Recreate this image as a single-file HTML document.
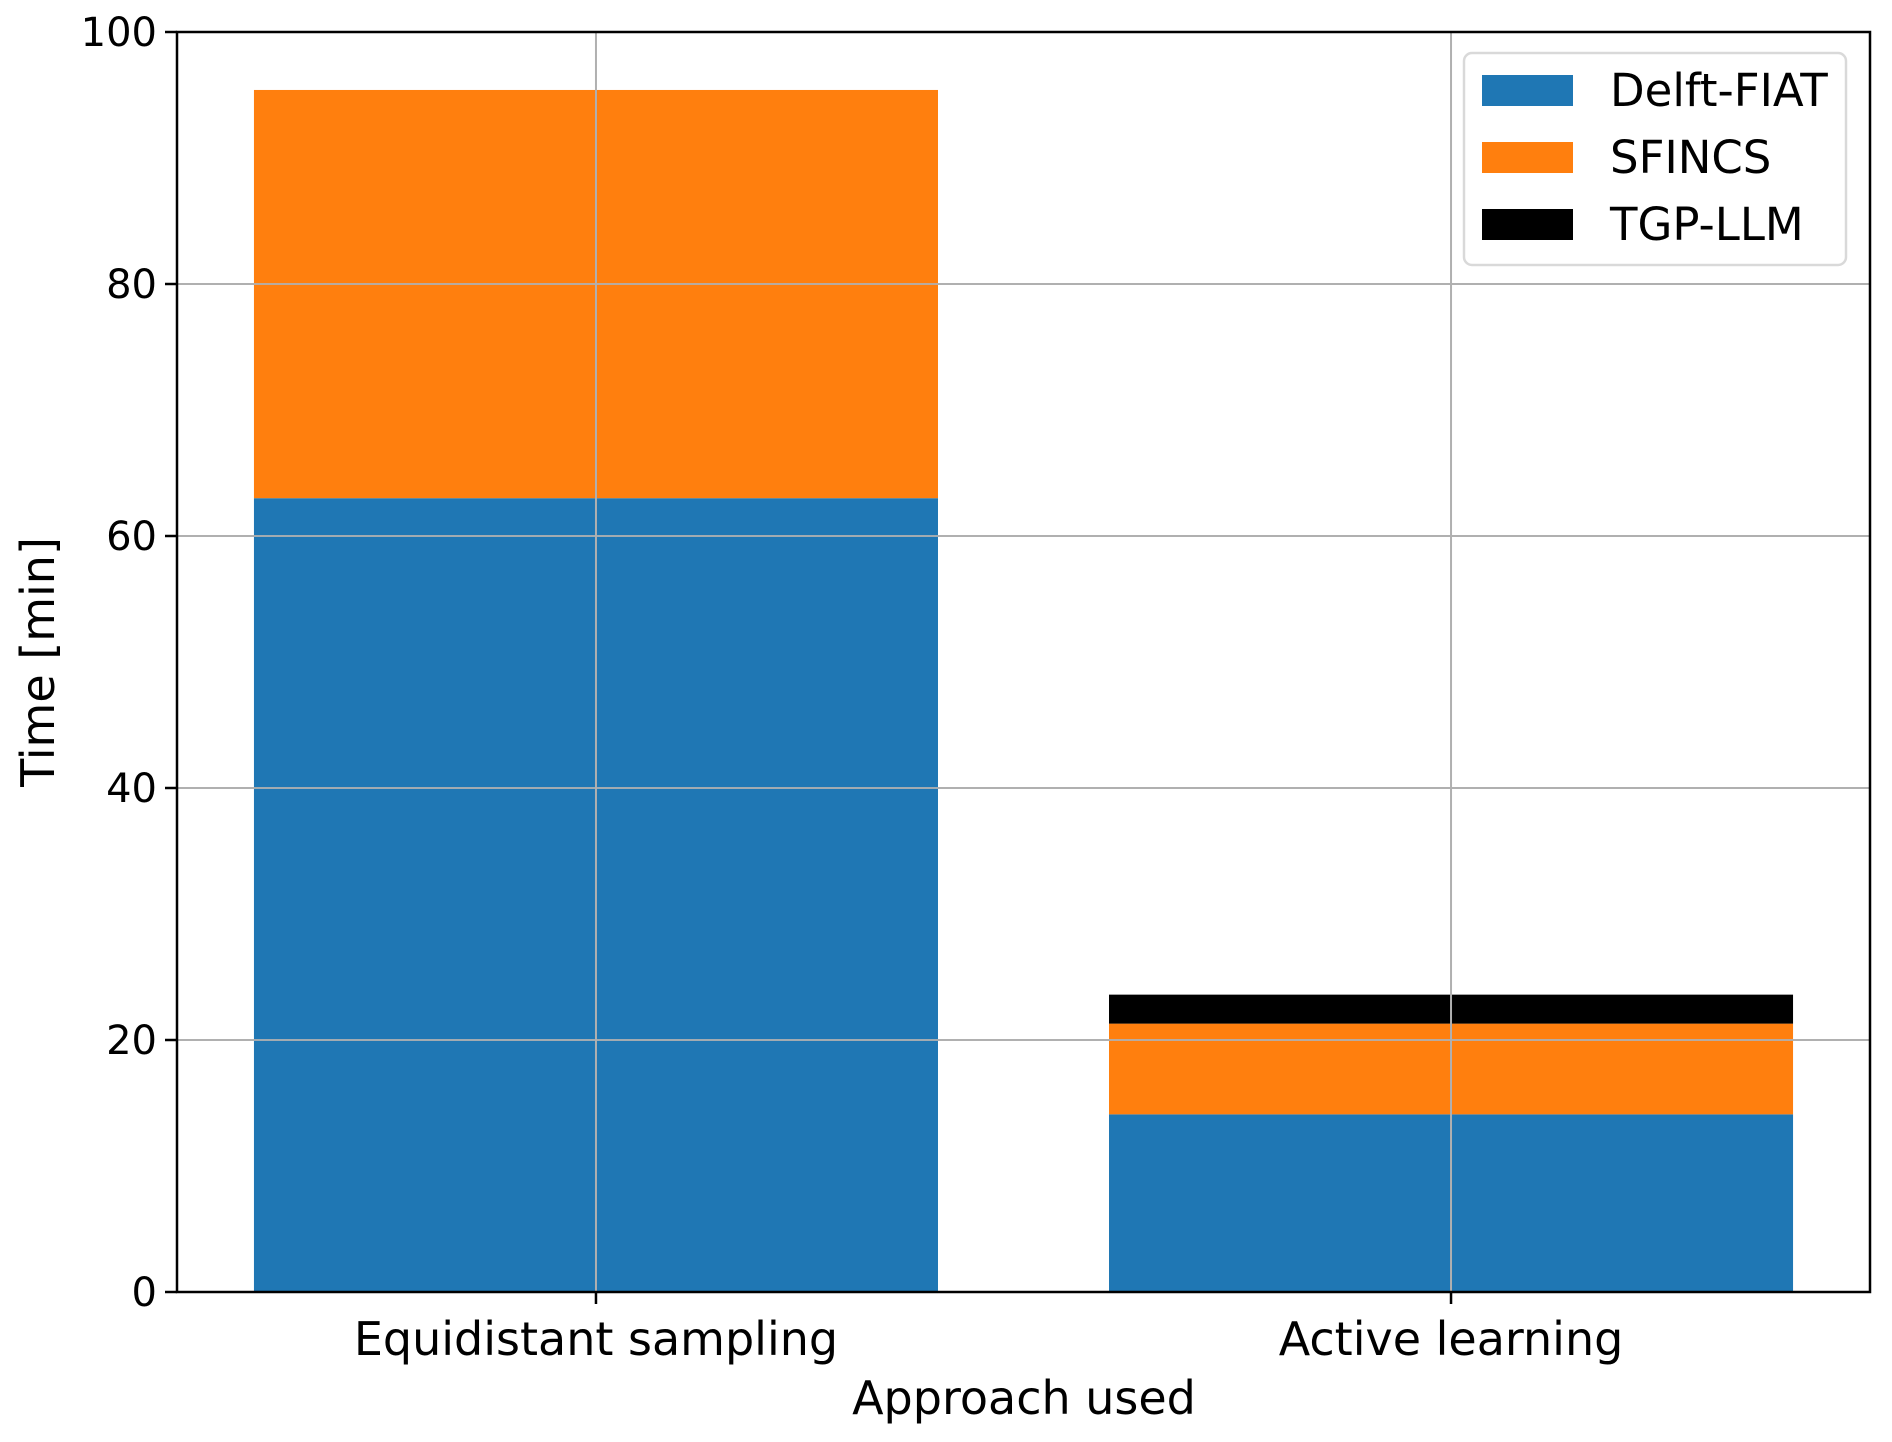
<!DOCTYPE html>
<html><head><meta charset="utf-8"><style>
html,body{margin:0;padding:0;background:#fff;}
svg{display:block;font-family:"DejaVu Sans","Liberation Sans",sans-serif;}
</style></head><body>
<svg id="chart" width="1892" height="1442" viewBox="0 0 1892 1442">
<g id="grid"></g>
<g id="bars"></g>
<g id="axes"></g>
<text x="1024" y="1414" font-size="46" text-anchor="middle">Approach used</text>
<text x="0" y="0" font-size="46" text-anchor="middle" transform="translate(54,662) rotate(-90)">Time [min]</text>
<g id="legend"></g>
</svg>
<script>
const categories = ["Equidistant sampling", "Active learning"];
const seriesNames = ["Delft-FIAT", "SFINCS", "TGP-LLM"];
const delftFiat = [63.0, 14.1];
const sfincs = [32.4, 7.2];
const tgpLlm = [0, 2.3];
const yTicks = [0, 20, 40, 60, 80, 100];
const colors = ["#1f77b4", "#ff7f0e", "#000000"];

const L=177, R=1870, T=32, B=1292;
const xMin=-0.49, xMax=1.49, yMin=0, yMax=100;
const NS="http://www.w3.org/2000/svg";
function xs(v){return L+(v-xMin)/(xMax-xMin)*(R-L);}
function ys(v){return B-(v-yMin)/(yMax-yMin)*(B-T);}
function mk(tag,attrs,parent){const e=document.createElementNS(NS,tag);for(const k in attrs)e.setAttribute(k,attrs[k]);parent.appendChild(e);return e;}
const grid=document.getElementById('grid'),bars=document.getElementById('bars'),axes=document.getElementById('axes'),legend=document.getElementById('legend');

yTicks.forEach(t=>{
  const g=mk('line',{x1:L,x2:R,y1:ys(t),y2:ys(t),stroke:'#b0b0b0','stroke-width':2},grid);
  
  
  const tk=mk('line',{x1:L-12,x2:L,y1:ys(t),y2:ys(t),stroke:'#000','stroke-width':2.5},axes);
  
  
  const tx=mk('text',{x:L-20,y:ys(t)+14,'font-size':40,'text-anchor':'end'},axes);
  tx.textContent=t;
  
  
});
categories.forEach((c,i)=>{
  const tk=mk('line',{x1:xs(i),x2:xs(i),y1:B,y2:B+12,stroke:'#000','stroke-width':2.5},axes);
  
  
  const tx=mk('text',{x:xs(i),y:1355,'font-size':46,'text-anchor':'middle'},axes);
  tx.textContent=c;
  
  
});
const series=[delftFiat,sfincs,tgpLlm];
categories.forEach((c,i)=>{
  let base=0;
  series.forEach((s,j)=>{
    const v=s[i];
    if(v>0){
      const r=mk('rect',{x:xs(i-0.4),width:xs(i+0.4)-xs(i-0.4),y:ys(base+v),height:ys(base)-ys(base+v),fill:colors[j]},bars);
      
      
    }
    base+=v;
  });
});
categories.forEach((c,i)=>{
  const g=mk('line',{x1:xs(i),x2:xs(i),y1:T,y2:B,stroke:'#b0b0b0','stroke-width':2},bars);
  
  
});
yTicks.forEach(t=>{
  const g=mk('line',{x1:L,x2:R,y1:ys(t),y2:ys(t),stroke:'#b0b0b0','stroke-width':2,'stroke-opacity':0.9},bars);
  
  
});
const fr=mk('rect',{x:L,y:T,width:R-L,height:B-T,fill:'none',stroke:'#000','stroke-width':2.5},axes);



const lb=mk('rect',{x:1464,y:53,width:382,height:212,rx:8,fill:'#fff','fill-opacity':0.85,stroke:'#d9d9d9','stroke-width':2.5},legend);


seriesNames.forEach((n,j)=>{
  const cy=90+j*67;
  const p=mk('rect',{x:1482,y:cy-15,width:91,height:31,fill:colors[j]},legend);
  
  
  const t=mk('text',{x:1610,y:cy+16,'font-size':45},legend);
  t.textContent=n;
  
  
});
</script>
</body></html>
